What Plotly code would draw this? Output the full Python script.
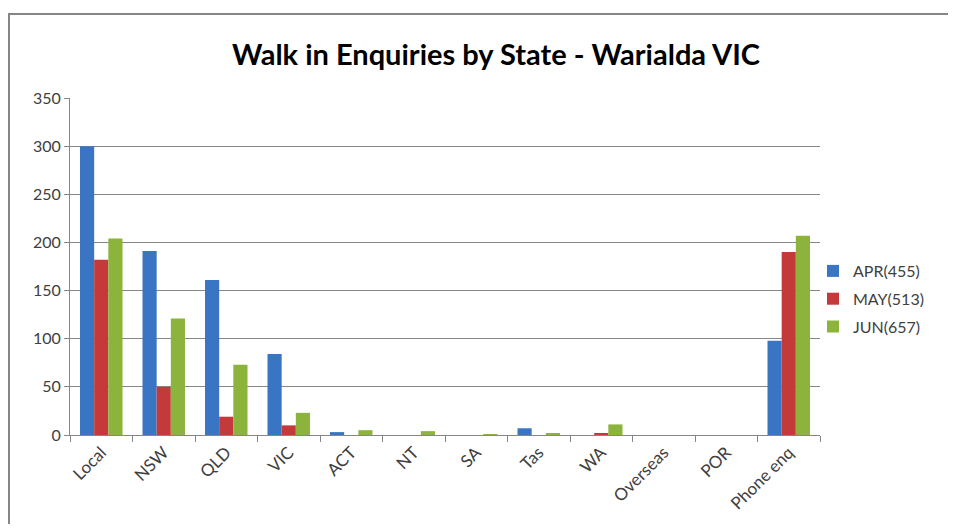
import plotly.graph_objects as go

categories = ["Local", "NSW", "QLD", "VIC", "ACT", "NT", "SA", "Tas", "WA", "Overseas", "POR", "Phone enq"]
apr_values = [300, 191, 161, 84, 3, 0, 0, 7, 0, 0, 0, 98]
may_values = [182, 50, 19, 10, 0, 0, 0, 0, 2, 0, 0, 190]
jun_values = [204, 121, 73, 23, 5, 4, 1, 2, 11, 0, 0, 207]
series_names = ["APR(455)", "MAY(513)", "JUN(657)"]
colors = ["#3a75c4", "#c43a3a", "#8cb43c"]

OFF = 8  # page body margin
W, H = 956 - 2 * OFF, 532 - 2 * OFF
L, R, T, B = 70 - OFF, 136 - OFF, 98 - OFF, 97 - OFF
pw, ph = W - L - R, H - T - B

def px_x(p):
    return (p - OFF - L) / pw

def px_y(p):
    return (H - B - (p - OFF)) / ph

fig = go.Figure()
for name, vals, c in zip(series_names, [apr_values, may_values, jun_values], colors):
    fig.add_trace(go.Bar(x=categories, y=vals, name=name, legendgroup=name,
                         marker=dict(color=c, line=dict(width=0))))

bx0, bx1 = px_x(9), px_x(1000)
by0, by1 = px_y(600), px_y(14)
border_path = f"M {bx0},{by0} L {bx0},{by1} L {bx1},{by1}"

fig.update_layout(
    width=W, height=H,
    margin=dict(l=L, r=R, t=T, b=B),
    paper_bgcolor="white", plot_bgcolor="white",
    barmode="group", bargap=0.32, bargroupgap=0.0,
    font=dict(family="Lato, sans-serif", size=15, color="#404040"),
    title=dict(text="<b>Walk in Enquiries by State - Warialda VIC</b>",
               x=px_x(496), xref="paper", xanchor="center",
               y=1 - (55 - OFF) / H, yref="container", yanchor="middle",
               font=dict(family="Lato, sans-serif", size=29, color="black")),
    legend=dict(x=px_x(813), xanchor="left", y=px_y(254), yanchor="top",
                font=dict(size=16, color="#404040"), tracegroupgap=4,
                itemwidth=30, bgcolor="rgba(0,0,0,0)"),
    xaxis=dict(tickangle=-45, showline=True, linecolor="#868686", linewidth=1,
               ticks="outside", tickson="boundaries", ticklen=6, tickcolor="#868686",
               showgrid=False, tickfont=dict(size=17, color="#404040")),
    yaxis=dict(range=[0, 350], dtick=50, showline=True, linecolor="#868686", linewidth=1,
               ticks="outside", ticklen=5, tickcolor="#868686",
               showgrid=True, gridcolor="#868686", gridwidth=1, zeroline=False,
               tickfont=dict(size=16, color="#404040")),
    shapes=[dict(type="path", xref="paper", yref="paper", path=border_path,
                 line=dict(color="#868686", width=2), layer="below")],
)

fig.write_html("out.html")
